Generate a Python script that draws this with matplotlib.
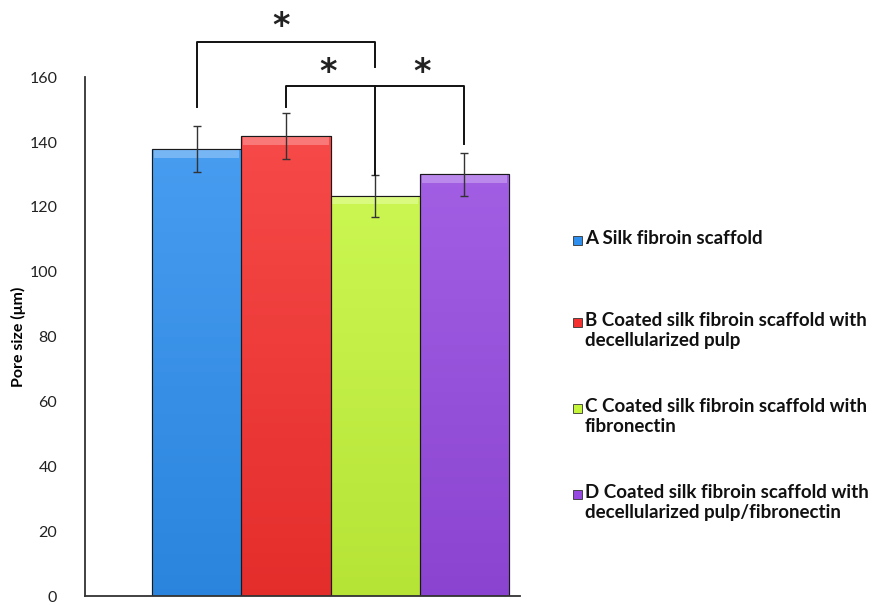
import numpy as np
import matplotlib
matplotlib.use("Agg")
import matplotlib.pyplot as plt
from matplotlib.colors import to_rgb
from matplotlib.patches import Rectangle

plt.rcParams['font.family'] = ['Lato', 'DejaVu Sans']

groups = ["A", "B", "C", "D"]
labels = [
    "A Silk fibroin scaffold",
    "B Coated silk fibroin scaffold with\ndecellularized pulp",
    "C Coated silk fibroin scaffold with\nfibronectin",
    "D Coated silk fibroin scaffold with\ndecellularized pulp/fibronectin",
]
pore_size = [137.8, 141.8, 123.4, 130.0]
pore_err = [7.0, 7.0, 6.4, 6.5]
colors = ["#2E8FEE", "#F5312F", "#C4F53A", "#9549E0"]
y_ticks = [0, 20, 40, 60, 80, 100, 120, 140, 160]

# significance brackets: (left bar, right bar, bracket height, leg ends)
brackets = [
    (0, 2, 170.8, 150.8, 163.0),
    (1, 3, 157.2, 150.8, 139.4),
]
stars = [(0.95, 175.5), (1.47, 161.5), (2.53, 161.5)]

fig = plt.figure(figsize=(8.81, 6.05), dpi=100)
ax = fig.add_axes([0.0965, 0.0145, 0.4935, 0.858])

x = np.arange(len(groups))
bars = ax.bar(x, pore_size, width=1.0, color=colors, edgecolor="#1a1a1a",
              linewidth=0.8, zorder=2)

# vertical shading and a glossy strip along each bar top
for b, c in zip(bars, colors):
    rgb = np.array(to_rgb(c))
    top = np.clip(rgb + (1 - rgb) * 0.12, 0, 1)
    bot = rgb * 0.93
    t = np.linspace(0, 1, 64)[:, None]
    grad = (bot[None, :] * (1 - t) + top[None, :] * t)[:, None, :]
    x0, w, h = b.get_x(), b.get_width(), b.get_height()
    im = ax.imshow(grad, extent=[x0, x0 + w, 0, h], origin="lower",
                   aspect="auto", zorder=2.1)
    im.set_clip_path(b)
    gl = np.clip(rgb + (1 - rgb) * 0.35, 0, 1)
    ax.add_patch(Rectangle((x0 + 0.02, h - 2.6), w - 0.04, 2.6,
                           facecolor=gl, edgecolor="none", zorder=2.2))
    ax.add_patch(Rectangle((x0, 0), w, h, facecolor="none",
                           edgecolor="#1a1a1a", linewidth=0.8, zorder=2.3))

ax.errorbar(x, pore_size, yerr=pore_err, fmt="none", ecolor="#333333",
            elinewidth=1.0, capsize=3, capthick=1.0, zorder=3)

for i, j, hy, yl, yr in brackets:
    ax.plot([x[i], x[i], x[j], x[j]], [yl, hy, hy, yr], color="#111111",
            lw=1.4, clip_on=False, zorder=4)
# middle leg from the lower bracket down to bar C
ax.plot([x[2], x[2]], [157.2, pore_size[2] + pore_err[2]], color="#111111",
        lw=1.4, clip_on=False, zorder=4)

for sx, sy in stars:
    ax.text(sx, sy, "*", ha="center", va="center", fontsize=24,
            fontweight="bold", color="#222222", clip_on=False,
            family="DejaVu Sans")

ax.set_xlim(-1.25, 3.62)
ax.set_ylim(0, 160)
ax.set_yticks(y_ticks)
ax.set_yticklabels([str(v) for v in y_ticks], fontsize=11.5, color="#222222")
ax.tick_params(axis="y", length=0, pad=20)
ax.set_xticks([])
for s in ["top", "right"]:
    ax.spines[s].set_visible(False)
for s in ["left", "bottom"]:
    ax.spines[s].set_color("#333333")
    ax.spines[s].set_linewidth(1.3)
ax.set_ylabel("Pore size (\u03bcm)", fontsize=11.5, fontweight="bold",
              labelpad=2)

# legend entries with small square keys
legend_y = [240, 322, 408, 494]
for lab, c, py in zip(labels, colors, legend_y):
    fy = 1 - py / 605
    fig.patches.append(Rectangle((573 / 881, fy - 5 / 605), 9 / 881, 9 / 605,
                                 transform=fig.transFigure, facecolor=c,
                                 edgecolor="#333333", linewidth=0.6))
    fig.text(585 / 881, fy + 10 / 605, lab, ha="left", va="top",
             fontsize=13.5, fontweight="bold", color="#111111",
             linespacing=1.2)

fig.savefig("out.png", dpi=100)
